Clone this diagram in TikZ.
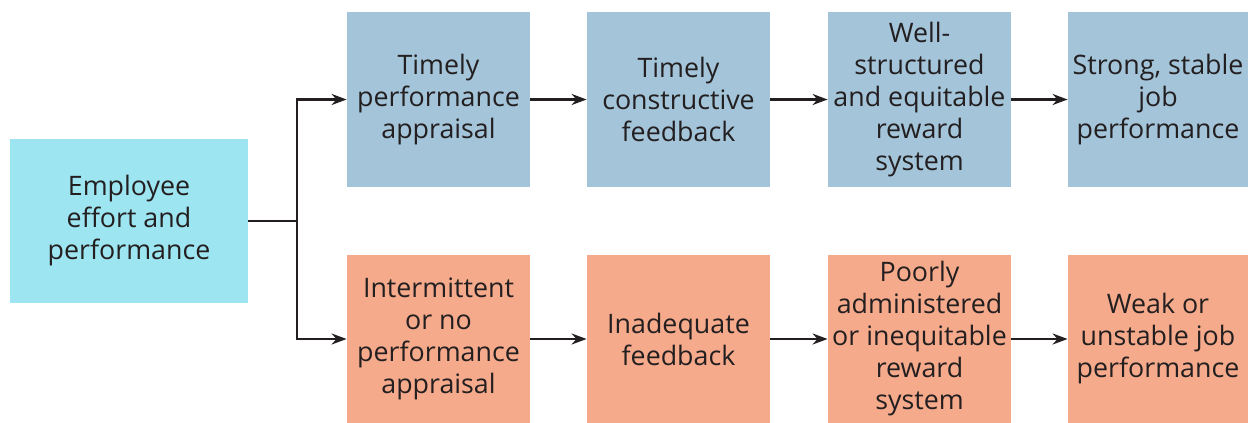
\documentclass[tikz,border=0pt]{standalone}
\usepackage{fontspec}
\setmainfont{Open Sans}
\usetikzlibrary{arrows.meta,positioning}
\definecolor{skycyan}{HTML}{9DE5F0}
\definecolor{steelblue}{HTML}{A3C4D9}
\definecolor{salmon}{HTML}{F5AA8B}
\definecolor{inkdark}{HTML}{231F20}

\begin{document}
\begin{tikzpicture}[
    x=0.5pt, y=-0.5pt,
    every node/.style={font=\fontsize{13.4}{16}\selectfont, text=inkdark, align=center, inner sep=0pt},
    startbox/.style={fill=skycyan, minimum width=119pt, minimum height=82pt},
    goodbox/.style={fill=steelblue, minimum width=91.5pt, minimum height=87.5pt},
    badbox/.style={fill=salmon, minimum width=91.5pt, minimum height=84pt},
    flow/.style={line width=1.1pt, inkdark, -{Stealth[length=7.5pt, width=5.5pt]}},
]
\useasboundingbox (0,0) rectangle (1248,423);

% Starting point
\node[startbox] (effort) at (129,221) {Employee\\effort and\\performance};

% Upper path
\node[goodbox] (appraisal) at (438.5,99.5) {Timely\\performance\\appraisal};
\node[goodbox] (feedback) at (678.5,99.5) {Timely\\constructive\\feedback};
\node[goodbox] (reward) at (919.5,99.5) {Well-\\structured\\and equitable\\reward\\system};
\node[goodbox, minimum width=90pt] (strong) at (1158,99.5) {Strong, stable\\job\\performance};

% Lower path
\node[badbox] (noappraisal) at (438.5,339) {Intermittent\\or no\\performance\\appraisal};
\node[badbox] (inadequate) at (678.5,339) {Inadequate\\feedback};
\node[badbox] (poor) at (919.5,339) {Poorly\\administered\\or inequitable\\reward\\system};
\node[badbox, minimum width=90pt] (weak) at (1158,339) {Weak or\\unstable job\\performance};

% Split
\coordinate (split) at (297,221);
\draw[line width=1.1pt, inkdark] (effort.east) -- (split);
\draw[flow] (split) |- (appraisal.west);
\draw[flow] (split) |- (noappraisal.west);

% Chains
\draw[flow] (appraisal) -- (feedback);
\draw[flow] (feedback) -- (reward);
\draw[flow] (reward) -- (strong);
\draw[flow] (noappraisal) -- (inadequate);
\draw[flow] (inadequate) -- (poor);
\draw[flow] (poor) -- (weak);

\end{tikzpicture}
\end{document}
